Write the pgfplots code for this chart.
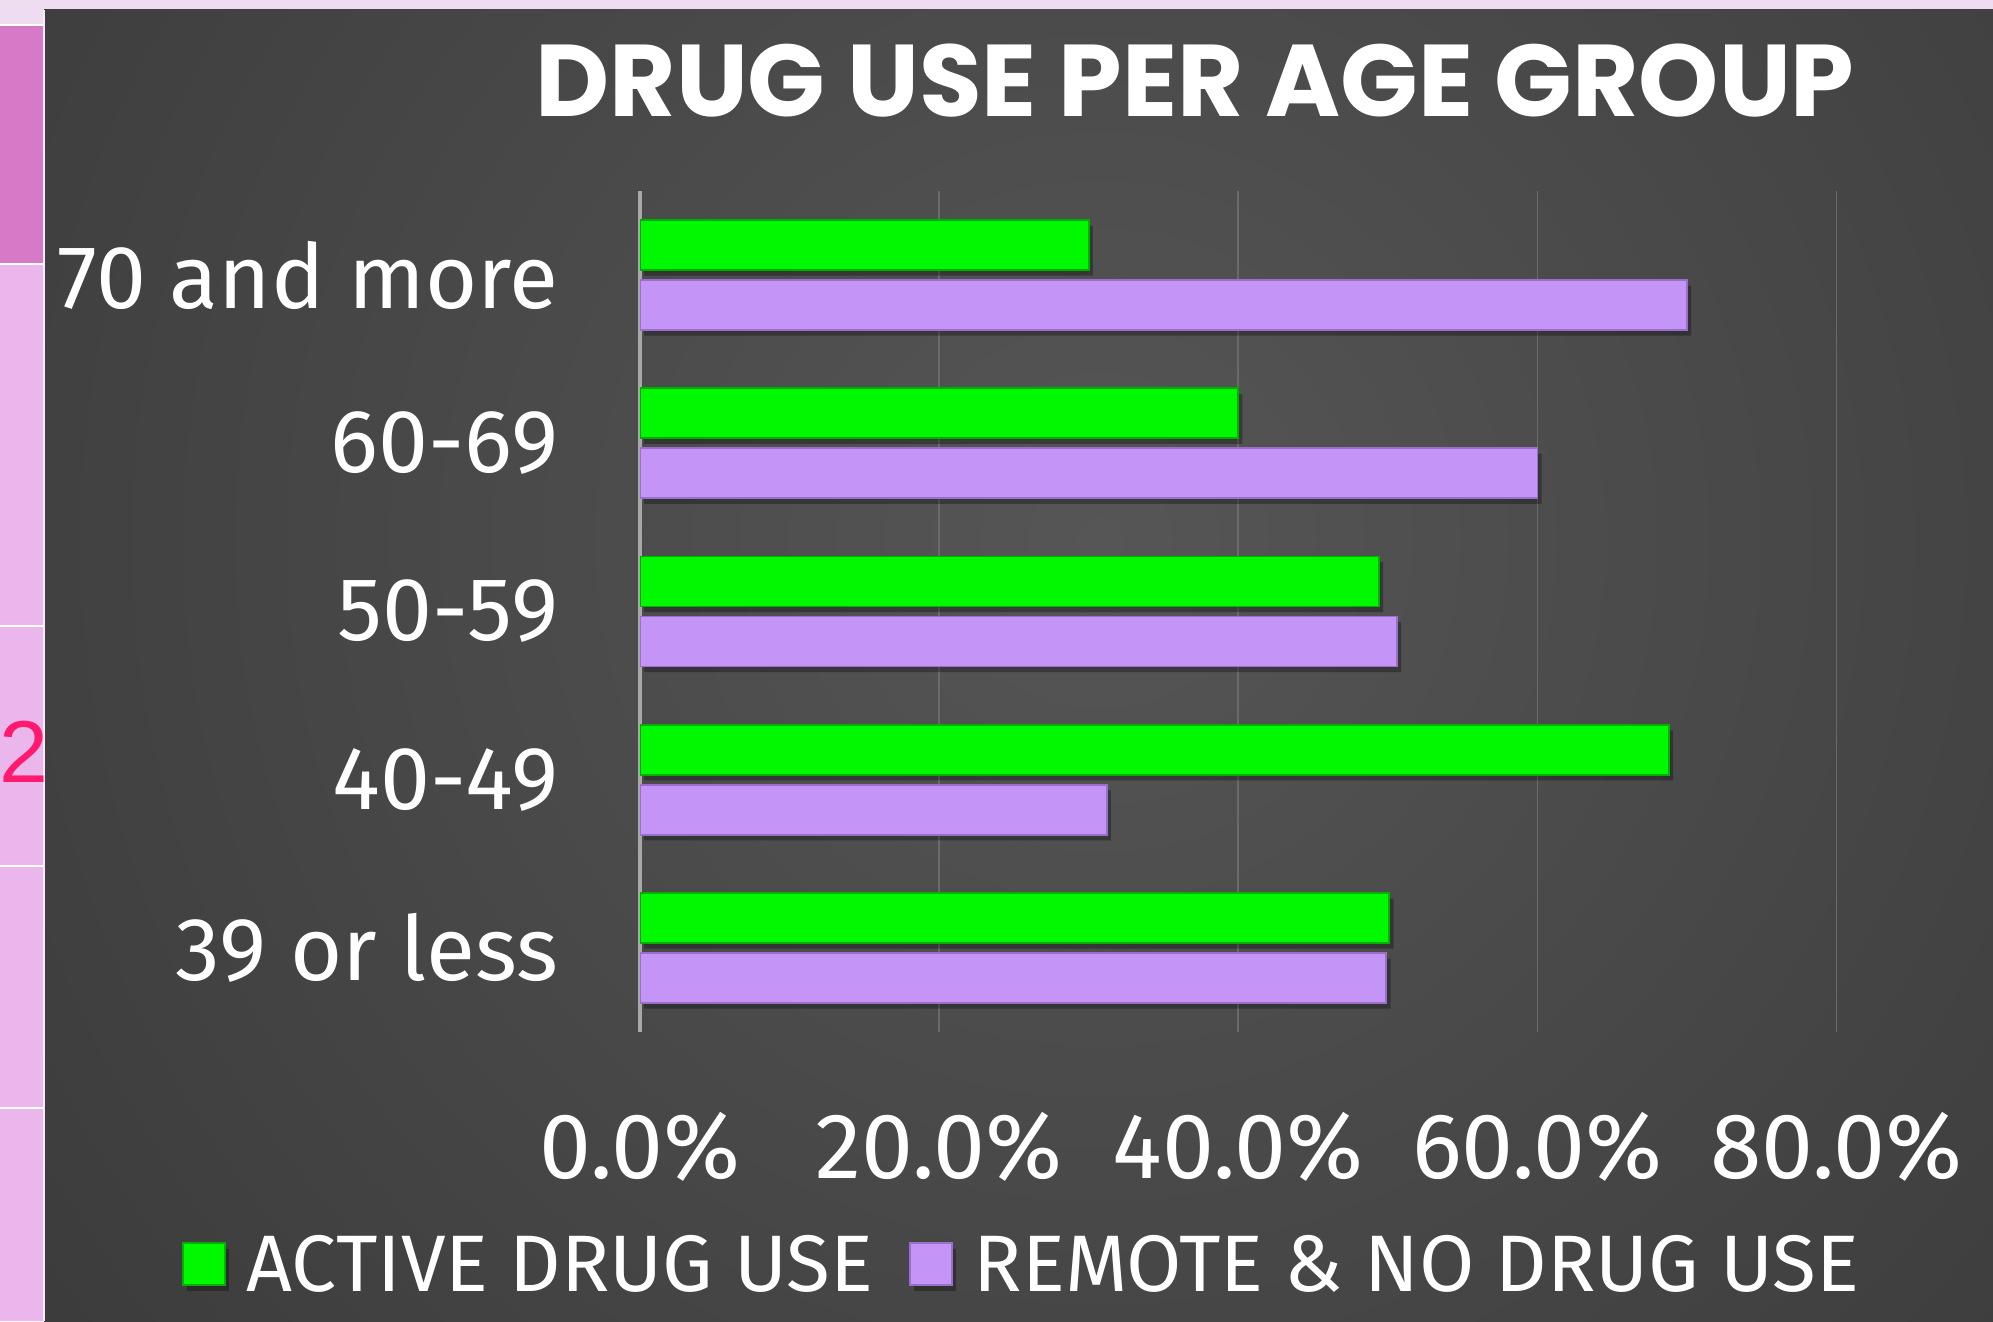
\documentclass[border=0pt]{standalone}
\usepackage{pgfplots}
\usepackage{pgfplotstable}
\pgfplotsset{compat=1.18}
\usepackage{fontspec}
\setmainfont{Fira Sans}
\newfontfamily\titlefont{Poppins}
\newfontfamily\numfont{Liberation Sans}
\definecolor{bg0}{HTML}{565656}
\definecolor{bg1}{HTML}{4C4C4C}
\definecolor{bg2}{HTML}{3E3E3E}
\definecolor{bg3}{HTML}{323232}
\definecolor{bg4}{HTML}{2C2C2C}
\definecolor{bg5}{HTML}{2A2A2A}
\definecolor{pinkdark}{HTML}{D67AC8}
\definecolor{pinklight}{HTML}{EBB6EC}
\definecolor{topband}{HTML}{EEDCF1}
\definecolor{actgreen}{HTML}{00F800}
\definecolor{actgreenedge}{HTML}{00B000}
\definecolor{remlav}{HTML}{C495F7}
\definecolor{remlavedge}{HTML}{9A6FCB}
\definecolor{gridgray}{HTML}{6A6A6A}
\definecolor{axisgray}{HTML}{A8A8A8}
\definecolor{slidenum}{HTML}{FF1A70}

\pgfplotsset{sqlegend/.style={legend image code/.code={\draw[##1] (0cm,-0.19cm) rectangle (0.42cm,0.23cm);}}}

\pgfplotstableread{
idx act rem
0 50.1 49.9
1 68.8 31.2
2 49.4 50.6
3 40.0 60.0
4 30.0 70.0
}\drugdata

\pgfdeclareradialshading{panelshade}{\pgfpoint{0cm}{0cm}}{%
  color(0bp)=(bg0); color(5bp)=(bg1); color(12.5bp)=(bg2); color(18.75bp)=(bg3); color(23bp)=(bg4); color(50bp)=(bg5)}

\begin{document}
\begin{tikzpicture}
% slide background
\fill[topband] (0,0) rectangle (19.93,13.21);
\fill[pinklight] (0,0) rectangle (0.44,10.57);
\fill[pinkdark] (0,10.57) rectangle (0.44,12.96);
\foreach \yy in {12.96,10.57,6.95,4.55,2.13}{
  \draw[white, line width=0.6pt] (0,\yy) -- (0.44,\yy);
}
\begin{scope}
  \clip (0.44,0) rectangle (19.93,13.11);
  \shade[shading=panelshade] (11.0,7.81) circle (24cm);
\end{scope}
\draw[white!70!pinklight, line width=0.6pt] (0.44,0) -- (0.44,13.11);
% slide number
\node[anchor=base west, inner sep=0pt, text=slidenum, font=\numfont\fontsize{25}{28}\selectfont] at (-0.01,5.39) {2};
% title
\node[anchor=base, inner sep=0pt, text=white, font=\titlefont\bfseries\fontsize{29}{32}\selectfont] at (11.95,12.04) {DRUG USE PER AGE GROUP};

\begin{axis}[
  at={(6.40cm,2.89cm)}, anchor=south west,
  width=11.965cm, height=8.41cm, scale only axis,
  xbar, bar width=0.50cm,
  xmin=0, xmax=80, ymin=-0.5, ymax=4.5,
  xtick={0,20,40,60,80},
  xticklabels={0.0\%,20.0\%,40.0\%,60.0\%,80.0\%},
  ytick={0,1,2,3,4},
  yticklabels={39 or less,40-49,50-59,60-69,70 and more},
  major tick length=0pt,
  axis line style={draw=none},
  xmajorgrids, grid style={gridgray, line width=0.45pt},
  extra x ticks={0}, extra x tick labels={},
  extra x tick style={grid style={axisgray, line width=1.1pt}},
  x tick label style={anchor=north, inner sep=0pt, yshift=-0.80cm,
    font=\fontsize{26.5}{29}\selectfont, text=white},
  y tick label style={anchor=east, inner sep=0pt, xshift=-0.81cm,
    font=\fontsize{25.5}{28}\selectfont, text=white},
  legend columns=2,
  legend style={at={(-0.3828,-0.2782)}, anchor=west, draw=none, fill=none,
    inner sep=0pt, outer sep=0pt, text=white,
    font=\fontsize{22.8}{26}\selectfont,
    nodes={inner sep=0pt},
    /tikz/every odd column/.append style={column sep=0.21cm},
    /tikz/every even column/.append style={column sep=0.36cm}},
]
\addplot[xbar, fill=actgreen, draw=actgreenedge, line width=0.5pt, bar shift=0.30cm, sqlegend,
  preaction={fill=black, fill opacity=0.3, draw=none, transform canvas={xshift=1.2pt, yshift=-1.6pt}}]
  table[x=act, y=idx] {\drugdata};
\addplot[xbar, fill=remlav, draw=remlavedge, line width=0.5pt, bar shift=-0.30cm, sqlegend,
  preaction={fill=black, fill opacity=0.3, draw=none, transform canvas={xshift=1.2pt, yshift=-1.6pt}}]
  table[x=rem, y=idx] {\drugdata};
\legend{ACTIVE DRUG USE, REMOTE \& NO DRUG USE}
\end{axis}
\pgfresetboundingbox
\path[use as bounding box] (0,0) rectangle (19.93,13.21);
\end{tikzpicture}
\end{document}
